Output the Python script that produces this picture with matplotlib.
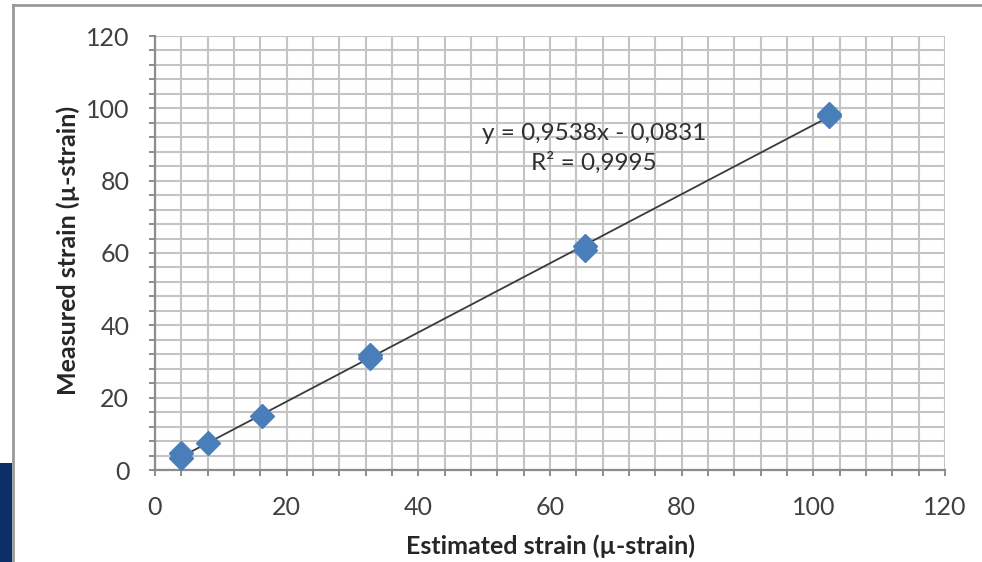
import numpy as np
import matplotlib
matplotlib.use("Agg")
import matplotlib.pyplot as plt
from matplotlib.patches import Rectangle
from matplotlib.lines import Line2D
from matplotlib.ticker import MultipleLocator

# Data
estimated = [4.0, 4.0, 8.0, 16.3, 32.6, 32.6, 65.3, 65.3, 102.4, 102.4]
measured = [3.2, 4.6, 7.4, 15.0, 31.0, 31.8, 60.8, 61.8, 97.9, 98.4]
equation_text = "y = 0,9538x - 0,0831"
r2_text = "R² = 0,9995"
x_label = "Estimated strain (µ-strain)"
y_label = "Measured strain (µ-strain)"

plt.rcParams['font.family'] = ['Lato', 'DejaVu Sans']

fig = plt.figure(figsize=(9.82, 5.62), dpi=100)
ax = fig.add_axes([155/982, 1-470/562, (945-155)/982, (470-36)/562])

tick_col = '#404040'
grid_col = '#c4c4c4'

ax.set_xlim(0, 120)
ax.set_ylim(0, 120)
ax.xaxis.set_major_locator(MultipleLocator(20))
ax.yaxis.set_major_locator(MultipleLocator(20))
ax.xaxis.set_minor_locator(MultipleLocator(4))
ax.yaxis.set_minor_locator(MultipleLocator(4))
ax.grid(True, which='both', color=grid_col, linewidth=1.5, zorder=0)
ax.set_axisbelow(True)

for s in ['top', 'right']:
    ax.spines[s].set_visible(False)
for s in ['left', 'bottom']:
    ax.spines[s].set_color('#8c8c8c')
    ax.spines[s].set_linewidth(1.6)

ax.tick_params(which='both', direction='out', length=4.5, width=1.4, color='#8c8c8c')
ax.tick_params(which='major', labelsize=18, labelcolor=tick_col)
ax.tick_params(axis='x', which='major', pad=14.5)
ax.tick_params(axis='y', which='major', pad=14)

# trendline
x = np.array(estimated)
y = np.array(measured)
slope, intercept = np.polyfit(x, y, 1)
xl = np.array([x.min(), x.max()])
ax.plot(xl, slope*xl + intercept, color='#3a3a3a', linewidth=1.3, zorder=3)

ax.plot(x, y, linestyle='none', marker='D', markersize=12, color='#4a7ebb',
        markeredgecolor='#4a7ebb', zorder=4)

ax.text(594/982, 1-133/562, equation_text, transform=fig.transFigure,
        ha='center', va='center', fontsize=17.5, color='#303030')
ax.text(594/982, 1-163/562, r2_text, transform=fig.transFigure,
        ha='center', va='center', fontsize=17.5, color='#303030')

fig.text(550/982, 1-546/562, x_label, ha='center', va='center',
         fontsize=18, fontweight='bold', color='#262626')
fig.text(68/982, 1-250/562, y_label, ha='center', va='center', rotation=90,
         fontsize=18, fontweight='bold', color='#262626')

# slide frame and blue block
fig.add_artist(Line2D([13/982, 1], [1-5/562, 1-5/562], transform=fig.transFigure,
                      color='#9a9a9a', linewidth=2))
fig.add_artist(Line2D([13/982, 13/982], [0, 1-5/562], transform=fig.transFigure,
                      color='#9a9a9a', linewidth=2))
fig.add_artist(Rectangle((0, 0), 12/982, (562-463)/562, transform=fig.transFigure,
                         facecolor='#0b2f66', edgecolor='none'))

fig.savefig('out.png', dpi=100)
